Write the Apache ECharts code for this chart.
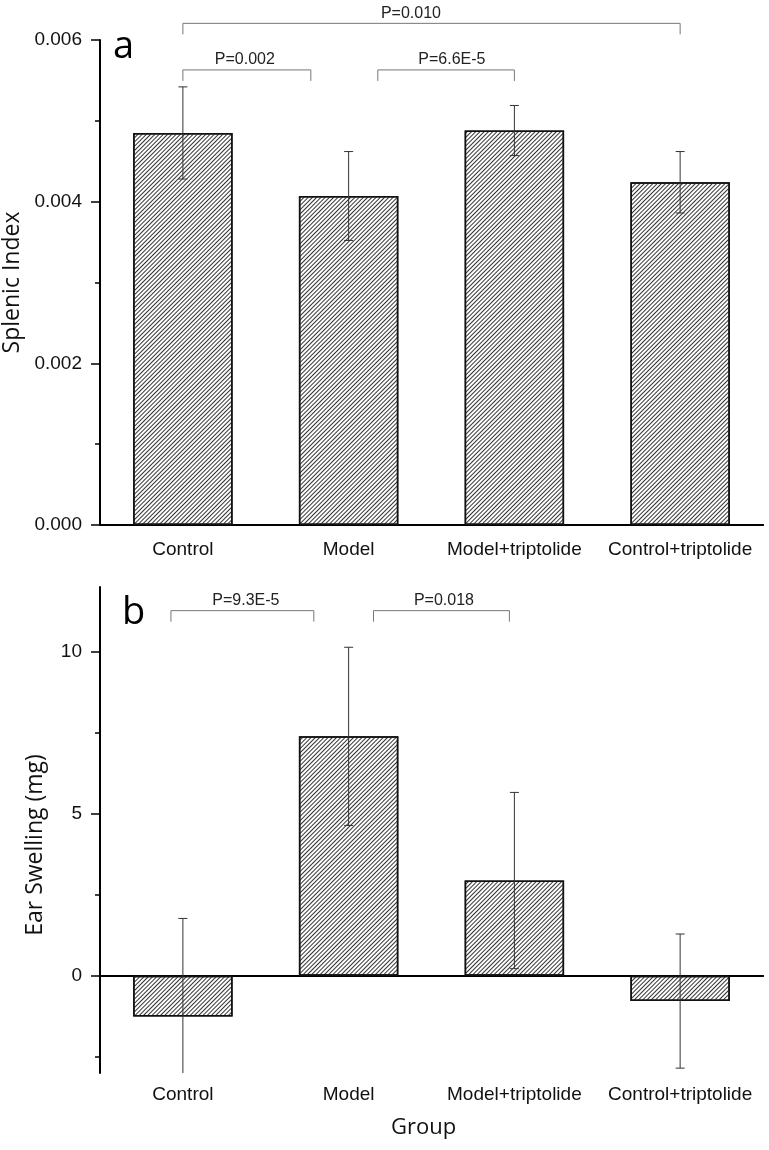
<!DOCTYPE html>
<html>
<head>
<meta charset="utf-8">
<script src="https://cdn.jsdelivr.net/npm/echarts@6/dist/echarts.min.js"></script>
<style>
html,body{margin:0;padding:0;background:#fff;}
#chart{width:769px;height:1150px;}
</style>
</head>
<body>
<div id="chart"></div>
<script>
// ---------- data ----------
const categories = ['Control', 'Model', 'Model+triptolide', 'Control+triptolide'];

const splenicMean = [0.00485, 0.00407, 0.00488, 0.00424];
const splenicSD   = [0.00057, 0.00055, 0.00031, 0.00038];

const earMean = [-1.26, 7.39, 2.94, -0.78];
const earSD   = [3.03, 2.75, 2.72, 2.07];

const splenicTicks = [0, 0.002, 0.004, 0.006];
const earTicks = [0, 5, 10];
const earMinorTicks = [-2.5, 2.5, 7.5];

// significance brackets (positions in category units, level in data units)
const brA_text  = ['P=0.010', 'P=0.002', 'P=6.6E-5'];
const brA_from  = [0, 0, 1.176];
const brA_to    = [3, 0.772, 2.0];
const brA_label = [1.376, 0.374, 1.623];
const brA_level = [0.006206, 0.00563, 0.00563];

const brB_text  = ['P=9.3E-5', 'P=0.018'];
const brB_from  = [-0.072, 1.15];
const brB_to    = [0.79, 1.97];
const brB_label = [0.38, 1.575];
const brB_level = [11.27, 11.27];

// ---------- helpers ----------
const AX_FONT = 'Liberation Sans';
const NAME_FONT = 'Open Sans';

function errorBarRender(params, api) {
  const cs = params.coordSys;
  const idx = api.value(0);
  const m = api.value(1), s = api.value(2);
  const c = api.coord([idx, m]);
  const top = api.coord([idx, m + s])[1];
  const bot = api.coord([idx, m - s])[1];
  const topC = Math.max(top, cs.y);
  const botC = Math.min(bot, cs.y + cs.height);
  const x = c[0], hw = 4.5;
  const style = { stroke: '#333', lineWidth: 1 };
  const children = [{ type: 'line', shape: { x1: x, y1: topC, x2: x, y2: botC }, style }];
  if (topC === top) children.push({ type: 'line', shape: { x1: x - hw, y1: top, x2: x + hw, y2: top }, style });
  if (botC === bot) children.push({ type: 'line', shape: { x1: x - hw, y1: bot, x2: x + hw, y2: bot }, style });
  return { type: 'group', children };
}

function bracketRender(texts, froms, tos, labels, levels) {
  return function (params, api) {
    const i = params.dataIndex;
    const band = api.size([1, 0])[0];
    const base = api.coord([0, levels[i]]);
    const y = base[1];
    const x1 = base[0] + froms[i] * band;
    const x2 = base[0] + tos[i] * band;
    const xl = base[0] + labels[i] * band;
    const drop = 11;
    const st = { stroke: '#777', lineWidth: 1, fill: null };
    return {
      type: 'group',
      children: [
        { type: 'polyline', shape: { points: [[x1, y + drop], [x1, y], [x2, y], [x2, y + drop]] }, style: st },
        { type: 'text', style: { text: texts[i], x: xl, y: y - 2, align: 'center', verticalAlign: 'bottom',
            font: '16px "Liberation Sans"', fill: '#222' } }
      ]
    };
  };
}

const hatch = {
  symbol: 'rect', symbolSize: 1,
  dashArrayX: [1, 0], dashArrayY: [1, 2],
  rotation: -Math.PI / 4, color: '#333'
};

const barStyle = { color: '#fff', borderColor: '#111', borderWidth: 1.5, decal: hatch };

const lineStyle = { color: '#000', width: 2 };

// ---------- option ----------
const option = {
  backgroundColor: '#fff',
  animation: false,
  title: [
    { text: 'a', left: 113, top: 28, padding: 0, textStyle: { fontFamily: NAME_FONT, fontSize: 38, fontWeight: 'normal', color: '#000' } },
    { text: 'b', left: 122, top: 594, padding: 0, textStyle: { fontFamily: NAME_FONT, fontSize: 38, fontWeight: 'normal', color: '#000' } }
  ],
  grid: [
    { left: 100, top: 40, width: 663, height: 485, outerBoundsMode: 'none', containLabel: false },
    { left: 100, top: 587, width: 663, height: 486, outerBoundsMode: 'none', containLabel: false }
  ],
  xAxis: [
    { // 0: panel a, centre ticks + labels
      type: 'category', gridIndex: 0, data: categories, position: 'bottom',
      axisLine: { lineStyle },
      axisTick: { alignWithLabel: true, length: 9, lineStyle: { color: '#000', width: 2 } },
      axisLabel: { margin: 15, fontFamily: AX_FONT, fontSize: 19, color: '#111', interval: 0 },
      splitLine: { show: false }
    },
    { // 1: panel a, boundary ticks
      type: 'category', gridIndex: 0, data: categories, position: 'bottom',
      axisLine: { lineStyle },
      axisTick: { alignWithLabel: false, length: 5, lineStyle: { color: '#000', width: 1.5 } },
      axisLabel: { show: false }, splitLine: { show: false }
    },
    { // 2: panel b, line on zero + centre ticks
      type: 'category', gridIndex: 1, data: categories, position: 'bottom',
      axisLine: { onZero: true, lineStyle },
      axisTick: { alignWithLabel: true, length: 9, lineStyle: { color: '#000', width: 2 } },
      axisLabel: { show: false }, splitLine: { show: false }
    },
    { // 3: panel b, boundary ticks on zero
      type: 'category', gridIndex: 1, data: categories, position: 'bottom',
      axisLine: { onZero: true, lineStyle },
      axisTick: { alignWithLabel: false, length: 5, lineStyle: { color: '#000', width: 1.5 } },
      axisLabel: { show: false }, splitLine: { show: false }
    },
    { // 4: panel b, labels at bottom + axis title
      type: 'category', gridIndex: 1, data: categories, position: 'bottom',
      axisLine: { show: false, onZero: false }, axisTick: { show: false },
      axisLabel: { margin: 12, fontFamily: AX_FONT, fontSize: 19, color: '#111', interval: 0 },
      splitLine: { show: false },
      name: 'Group', nameLocation: 'middle', nameGap: 44,
      nameTextStyle: { fontFamily: NAME_FONT, fontSize: 22, color: '#111', padding: [0, 16, 0, 0] }
    }
  ],
  yAxis: [
    { // 0: panel a
      type: 'value', gridIndex: 0, min: 0, max: 0.006, interval: 0.002,
      axisLine: { show: true, lineStyle },
      axisTick: { show: true, length: 9, lineStyle: { color: '#000', width: 1.5 } },
      minorTick: { show: true, splitNumber: 2, length: 5, lineStyle: { color: '#000', width: 1.5 } },
      axisLabel: { margin: 18, fontFamily: AX_FONT, fontSize: 19, color: '#111', formatter: v => v.toFixed(3) },
      splitLine: { show: false }, minorSplitLine: { show: false },
      name: 'Splenic Index', nameLocation: 'middle', nameGap: 76, nameRotate: 90,
      nameTextStyle: { fontFamily: NAME_FONT, fontSize: 23, color: '#111' }
    },
    { // 1: panel b major
      type: 'value', gridIndex: 1, min: -3, max: 12, position: 'left',
      axisLine: { show: true, lineStyle },
      axisTick: { show: true, length: 9, customValues: earTicks, lineStyle: { color: '#000', width: 1.5 } },
      axisLabel: { margin: 18, fontFamily: AX_FONT, fontSize: 19, color: '#111', customValues: earTicks },
      splitLine: { show: false },
      name: 'Ear Swelling (mg)', nameLocation: 'middle', nameGap: 53, nameRotate: 90,
      nameTextStyle: { fontFamily: NAME_FONT, fontSize: 23, color: '#111', padding: [0, 30, 0, 0] }
    },
    { // 2: panel b minor ticks
      type: 'value', gridIndex: 1, min: -3, max: 12, position: 'left',
      axisLine: { show: false },
      axisTick: { show: true, length: 5, customValues: earMinorTicks, lineStyle: { color: '#000', width: 1.5 } },
      axisLabel: { show: false }, splitLine: { show: false }
    }
  ],
  series: [
    { type: 'bar', xAxisIndex: 0, yAxisIndex: 0, data: splenicMean, barWidth: '60%', itemStyle: barStyle, z: 2 },
    { type: 'custom', xAxisIndex: 0, yAxisIndex: 0, z: 5,
      data: splenicMean.map((m, i) => [i, m, splenicSD[i]]), renderItem: errorBarRender },
    { type: 'custom', xAxisIndex: 0, yAxisIndex: 0, z: 5,
      data: brA_level.map(l => [0, l]),
      renderItem: bracketRender(brA_text, brA_from, brA_to, brA_label, brA_level) },

    { type: 'bar', xAxisIndex: 2, yAxisIndex: 1, data: earMean, barWidth: '60%', itemStyle: barStyle, z: 2 },
    { type: 'custom', xAxisIndex: 2, yAxisIndex: 1, z: 5,
      data: earMean.map((m, i) => [i, m, earSD[i]]), renderItem: errorBarRender },
    { type: 'custom', xAxisIndex: 2, yAxisIndex: 1, z: 5,
      data: brB_level.map(l => [0, l]),
      renderItem: bracketRender(brB_text, brB_from, brB_to, brB_label, brB_level) }
  ]
};

const chart = echarts.init(document.getElementById('chart'), null, { renderer: 'canvas' });
chart.setOption(option);
</script>
</body>
</html>
